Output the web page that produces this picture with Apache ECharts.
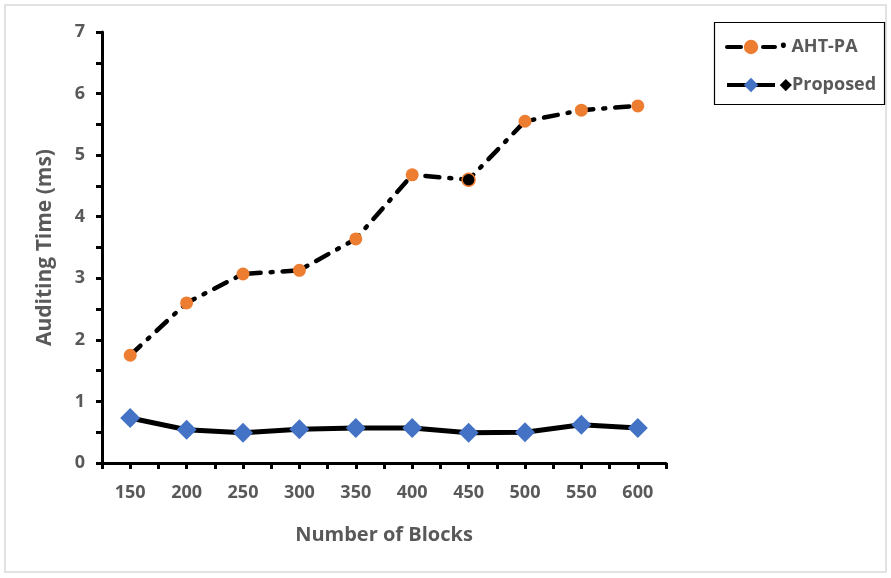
<!DOCTYPE html>
<html><head><meta charset="utf-8">
<script src="https://cdn.jsdelivr.net/npm/echarts@6/dist/echarts.min.js"></script>
<style>html,body{margin:0;padding:0;background:#fff}#c{width:891px;height:578px}</style>
</head><body><div id="c"></div>
<script>
const blocks = [150, 200, 250, 300, 350, 400, 450, 500, 550, 600];
const ahtPa = [1.75, 2.6, 3.07, 3.13, 3.64, 4.68, 4.6, 5.55, 5.73, 5.8];
const proposed = [0.73, 0.54, 0.49, 0.55, 0.57, 0.57, 0.49, 0.5, 0.62, 0.57];
const yTicks = [0, 1, 2, 3, 4, 5, 6, 7];
const xTicks = blocks;

const chart = echarts.init(document.getElementById('c'), null, {renderer: 'canvas'});
const gray = '#595959';
const font = 'Open Sans';
const ahtData = blocks.map((b, i) => {
  const d = {value: [b, ahtPa[i]]};
  if (i === 6) d.itemStyle = {color: '#000', borderColor: '#ED7D31', borderWidth: 1.5};
  return d;
});
chart.setOption({
  animation: false,
  backgroundColor: '#fff',
  grid: {left: 102, right: 225, top: 32, bottom: 115, containLabel: false},
  graphic: [
    {type: 'rect', shape: {x: 5, y: 5, width: 881, height: 567}, style: {fill: 'none', stroke: '#d9d9d9', lineWidth: 1.5}, silent: true},
    {type: 'rect', shape: {x: 714.5, y: 22.5, width: 170, height: 82}, style: {fill: 'none', stroke: '#000', lineWidth: 1.2}, silent: true}
  ],
  legend: {
    orient: 'vertical', left: 720, top: 33, itemGap: 20, itemWidth: 48, itemHeight: 18,
    data: ['AHT-PA', 'Proposed'],
    lineStyle: {width: 4},
    formatter: function (n) { return n === 'AHT-PA' ? '{d|•} ' + n : '{k|◆}' + n; },
    textStyle: {fontFamily: font, fontSize: 18, fontWeight: 'bold', color: gray,
      rich: {d: {color: '#000', fontSize: 18, fontWeight: 'bold'}, k: {color: '#000', fontSize: 15}}}
  },
  xAxis: {
    type: 'value', min: 125, max: 625, interval: 25,
    name: 'Number of Blocks', nameLocation: 'middle', nameGap: 62,
    nameTextStyle: {fontFamily: font, fontSize: 20, fontWeight: 'bold', color: gray},
    axisLine: {lineStyle: {color: '#000', width: 3}},
    axisTick: {show: true, length: 6, lineStyle: {color: '#000', width: 3}},
    axisLabel: {margin: 21, fontFamily: font, fontSize: 18, fontWeight: 'bold', color: gray,
      formatter: v => xTicks.indexOf(v) >= 0 ? String(v) : ''},
    splitLine: {show: false}
  },
  yAxis: {
    type: 'value', min: 0, max: 7, interval: 0.5,
    name: 'Auditing Time (ms)', nameLocation: 'middle', nameGap: 46,
    nameTextStyle: {fontFamily: font, fontSize: 21, fontWeight: 'bold', color: gray},
    axisLine: {show: true, lineStyle: {color: '#000', width: 3}},
    axisTick: {show: true, length: 6, lineStyle: {color: '#000', width: 3}},
    axisLabel: {margin: 17, fontFamily: font, fontSize: 18, fontWeight: 'bold', color: gray,
      formatter: v => yTicks.indexOf(v) >= 0 ? String(v) : ''},
    splitLine: {show: false}
  },
  series: [
    {
      name: 'AHT-PA', type: 'line', data: ahtData,
      symbol: 'circle', symbolSize: 13,
      itemStyle: {color: '#ED7D31'},
      lineStyle: {color: '#000', width: 4.5, type: [14, 10, 2, 10], cap: 'round'}
    },
    {
      name: 'Proposed', type: 'line', data: blocks.map((b, i) => [b, proposed[i]]),
      symbol: 'diamond', symbolSize: 20,
      itemStyle: {color: '#4472C4'},
      lineStyle: {color: '#000', width: 5}
    }
  ]
});
</script></body></html>
